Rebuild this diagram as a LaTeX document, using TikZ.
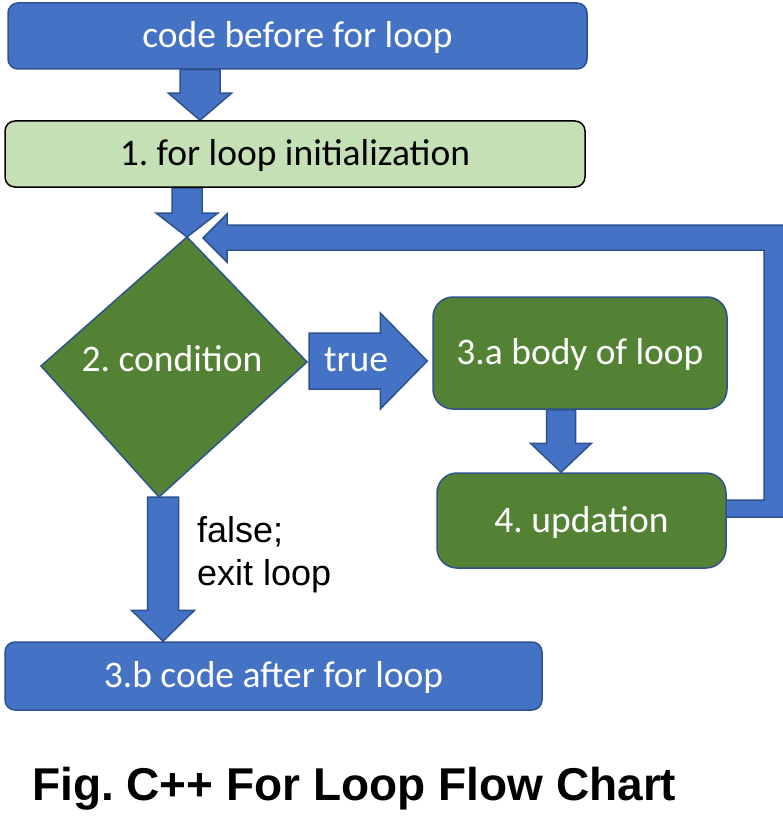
\documentclass[tikz,border=0pt]{standalone}
\usepackage{fontspec}
\setmainfont{Carlito}
\newfontfamily\arialfont{Liberation Sans}
\usetikzlibrary{calc}
\frenchspacing
\definecolor{pblue}{HTML}{4472C4}
\definecolor{pborder}{HTML}{2F528F}
\definecolor{pgreen}{HTML}{548235}
\definecolor{plight}{HTML}{C5E0B4}
\pgfdeclarelayer{background}
\pgfsetlayers{background,main}
\tikzset{
  box/.style={draw=pborder, line width=1.5pt, fill=pblue, text=white, rounded corners=10pt,
    inner sep=0pt, text height=23pt, text depth=0pt, font=\fontsize{37.5}{44}\selectfont},
  greenbox/.style={box, fill=pgreen, rounded corners=20pt},
  initbox/.style={box, fill=plight, draw=black, text=black},
  blockarrow/.style={fill=pblue, draw=pborder, line width=1.5pt, line join=miter},
  boxtext/.style={text=white, inner sep=0pt, text height=23pt, text depth=0pt, font=\fontsize{37.5}{44}\selectfont},
  lbl/.style={font=\arialfont\fontsize{36}{43}\selectfont, anchor=base west, inner sep=0pt},
}
% #1 start, #2 tip, #3 shaft half width, #4 head half width, #5 head length
\newcommand\blockdown[5]{%
  \filldraw[blockarrow] let \p1=(#1), \p2=(#2) in
   (\x2-#3pt,\y1) -- (\x2-#3pt,\y2+#5pt) -- (\x2-#4pt,\y2+#5pt) -- (\x2,\y2)
   -- (\x2+#4pt,\y2+#5pt) -- (\x2+#3pt,\y2+#5pt) -- (\x2+#3pt,\y1) -- cycle;}
\newcommand\blockright[5]{%
  \filldraw[blockarrow] let \p1=(#1), \p2=(#2) in
   (\x1,\y1+#3pt) -- (\x2-#5pt,\y1+#3pt) -- (\x2-#5pt,\y1+#4pt) -- (\x2,\y1)
   -- (\x2-#5pt,\y1-#4pt) -- (\x2-#5pt,\y1-#3pt) -- (\x1,\y1-#3pt) -- cycle;}
\begin{document}
\begin{tikzpicture}[x=1pt,y=-1pt]
\useasboundingbox (0,0) rectangle (783,837);

% boxes
\node[box, minimum width=579pt, minimum height=66pt] (before) at (297.5,36) {code before for loop};
\node[initbox, minimum width=580pt, minimum height=66pt] (init) at (295,154) {1. for loop initialization};
\node[greenbox, minimum width=294pt, minimum height=112pt] (body) at (580,353) {3.a body of loop};
\node[greenbox, minimum width=289pt, minimum height=95pt] (upd) at (581.5,520.5) {4. updation};
\node[box, minimum width=537pt, minimum height=68pt] (after) at (273.5,676) {3.b code after for loop};

% decision diamond
\coordinate (dT) at (187,237);
\coordinate (dR) at (307,362);
\coordinate (dB) at (159,497);
\coordinate (dL) at (41,366);
\filldraw[fill=pgreen, draw=pborder, line width=1.5pt, line join=miter] (dT) -- (dR) -- (dB) -- (dL) -- cycle;
\node[boxtext] (cond) at (172,360) {2. condition};

% helper x positions
\coordinate (a1x) at (200,0);
\coordinate (a2x) at (187,0);
\coordinate (a3x) at (561,0);
\coordinate (a4x) at (163,0);

\begin{pgfonlayer}{background}
  \fill[white] (0,0) rectangle (783,837);
  \blockdown{before.south -| a1x}{init.north -| a1x}{20}{31.5}{27}
  \blockdown{init.south -| a2x}{dT}{15}{31}{24}
  \blockdown{body.south -| a3x}{upd.north -| a3x}{14.5}{30.5}{29}
  \blockdown{dB -| a4x}{after.north -| a4x}{15.5}{31.5}{31}
  \blockright{$(dR)+(2,-1)$}{$(body.west |- dR)+(-5,-1)$}{28}{48}{47}
  % loop-back elbow arrow from updation to condition
  \filldraw[blockarrow] (720,500) -- (764,500) -- (764,250) -- (227,250) -- (227,262)
    -- (203,238) -- (227,214) -- (227,225) -- (790,225) -- (790,517) -- (720,517) -- cycle;
\end{pgfonlayer}

\node[boxtext, anchor=base] (truelbl) at (356,371) {true};

\node[lbl] (false1) at (197,542) {false;};
\node[lbl] (false2) at (197,585) {exit loop};

\node[font=\arialfont\bfseries\fontsize{46}{55}\selectfont, anchor=base west, inner sep=0pt] (cap) at (32,800) {Fig. C++ For Loop Flow Chart};
\end{tikzpicture}
\end{document}
